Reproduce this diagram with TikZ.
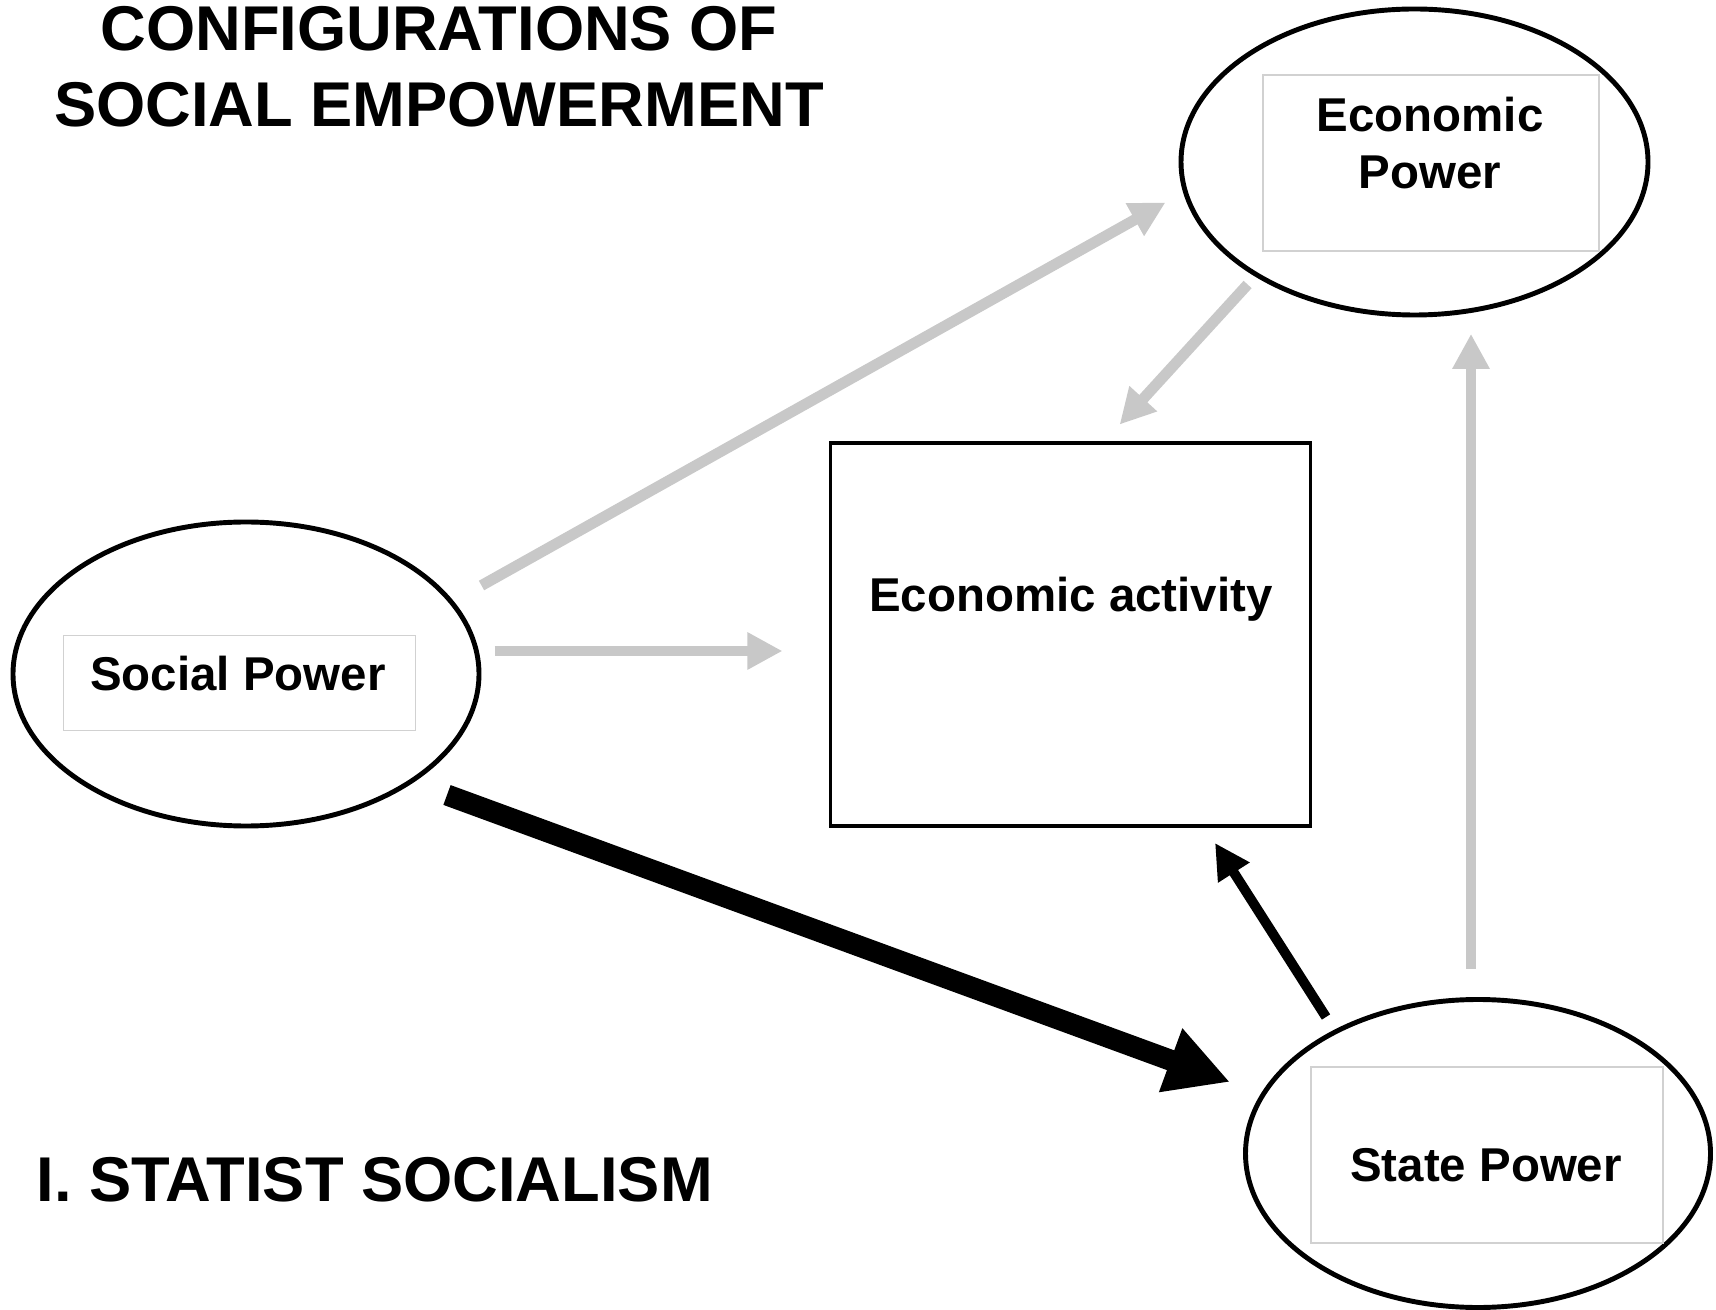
\documentclass[tikz,border=0pt]{standalone}
\usepackage{fontspec}
\setmainfont{Liberation Sans}
\usetikzlibrary{arrows.meta,shapes.geometric}
\definecolor{arrgray}{RGB}{200,200,200}
\tikzset{
  x=0.1mm,y=-0.1mm,
  oval/.style={ellipse,draw=black,line width=1.4pt,inner sep=0pt},
  innerbox/.style={rectangle,draw=black!18,line width=0.4pt,inner sep=0pt},
  lbl/.style={font=\fontsize{13.5}{16.2}\selectfont\bfseries,align=center,inner sep=0pt},
  ttl/.style={font=\fontsize{18}{21.5}\selectfont\bfseries,align=center,inner sep=0pt},
  grayarrow/.style={draw=arrgray,line width=3.1pt,-{Triangle[length=10pt,width=10pt,fill=arrgray]}},
  bigarrow/.style={draw=black,line width=6pt,-{Triangle[length=18pt,width=18pt]}},
  midarrow/.style={draw=black,line width=2.8pt,-{Triangle[length=10pt,width=10pt]}}
}
\begin{document}
\begin{tikzpicture}
\useasboundingbox (0,0) rectangle (1716,1310);
% titles
\node[ttl] (title) at (439,67) {CONFIGURATIONS OF\\SOCIAL EMPOWERMENT};
\node[ttl,anchor=west] (sub) at (36,1180) {I. STATIST SOCIALISM};
% ellipses
\node[oval,minimum width=46.6mm,minimum height=30.4mm] (sp) at (246,674) {};
\node[oval,minimum width=46.7mm,minimum height=30.6mm] (ep) at (1414.5,162) {};
\node[oval,minimum width=46.5mm,minimum height=30.8mm] (st) at (1478,1153.5) {};
% inner boxes
\node[innerbox,minimum width=35.2mm,minimum height=9.5mm] (spbox) at (239.5,683) {};
\node[innerbox,minimum width=33.6mm,minimum height=17.6mm] (epbox) at (1431,163) {};
\node[innerbox,minimum width=35.2mm,minimum height=17.6mm] (stbox) at (1487,1155) {};
% labels
\node[lbl] (sptxt) at (238,674) {Social Power};
\node[lbl] (eptxt) at (1430,143) {Economic\\Power};
\node[lbl] (sttxt) at (1486,1165) {State Power};
% rectangle
\node[rectangle,draw=black,line width=0.9pt,minimum width=48.0mm,minimum height=38.3mm,inner sep=0pt] (ea) at (1070.8,634.5) {};
\node[lbl] (eatxt) at (1071,599) {Economic activity};
% connector ends
\coordinate (a1s) at (481.5,585.5);
\coordinate (a1e) at (1165.5,202.5);
\coordinate (a2s) at (1247.6,284.5);
\coordinate (a2e) at (1119.6,424.6);
\coordinate (a3s) at (494.7,651);
\coordinate (a3e) at (782.5,651);
\coordinate (a4s) at (1471,968.6);
\coordinate (a4e) at (1471,333.8);
\coordinate (a5s) at (447,795);
\coordinate (a5e) at (1230,1082);
\coordinate (a6s) at (1326,1017);
\coordinate (a6e) at (1215,843);
% arrows
\draw[grayarrow] (a1s) -- (a1e);
\draw[grayarrow] (a2s) -- (a2e);
\draw[grayarrow] (a3s) -- (a3e);
\draw[grayarrow] (a4s) -- (a4e);
\draw[bigarrow] (a5s) -- (a5e);
\draw[midarrow] (a6s) -- (a6e);
\end{tikzpicture}
\end{document}
